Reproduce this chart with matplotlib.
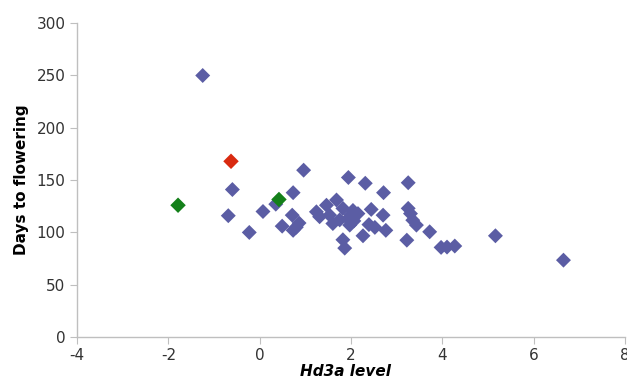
import matplotlib.pyplot as plt

plt.rcParams['axes.unicode_minus'] = False

# Hd3a level vs days to flowering
hd3a = [-1.25, -0.6, -0.69, -0.23, 0.07, 0.35, 0.73, 0.96, 0.71, 0.49, 0.73, 0.86, 0.8,
        1.24, 1.31, 1.46, 1.68, 1.53, 1.6, 1.94, 2.31, 1.82, 1.86, 1.82, 2.04, 2.15,
        1.93, 1.97, 2.06, 2.44, 2.7, 2.39, 2.52, 2.76, 2.26, 2.71, 3.25, 3.25, 3.3,
        3.35, 3.43, 3.72, 3.22, 3.97, 4.1, 4.27, 5.16, 6.65, 2.0, 1.75]
days = [250, 141, 116, 100, 120, 127, 138, 159.5, 116.5, 106, 102, 109, 105,
        119.7, 115, 126, 131, 116.5, 108.5, 152.5, 147, 123, 85, 93, 121, 118,
        113, 107, 111, 122, 116.5, 107.5, 104.8, 102, 96.8, 138, 147.5, 123, 118,
        111.7, 107, 100.6, 92.6, 85.7, 86, 87, 96.8, 73.5, 117, 112]

red_x = [-0.63]
red_y = [168]
green_x = [-1.79, 0.42]
green_y = [126, 131.5]

fig = plt.figure(figsize=(6.27, 3.8), dpi=100)
ax = fig.add_axes([0.123, 0.113, 0.874, 0.826])

ax.scatter(hd3a, days, marker='D', s=58, color='#5b5da4', edgecolors='none', zorder=3)
ax.scatter(red_x, red_y, marker='D', s=62, color='#d92a10', edgecolors='none', zorder=4)
ax.scatter(green_x, green_y, marker='D', s=62, color='#14801a', edgecolors='none', zorder=4)

ax.set_xlim(-4, 8)
ax.set_ylim(0, 300)
ax.set_xticks(range(-4, 9, 2))
ax.set_yticks(range(0, 301, 50))

for s in ['top', 'right']:
    ax.spines[s].set_visible(False)
for s in ['left', 'bottom']:
    ax.spines[s].set_color('#bfbfbf')
    ax.spines[s].set_linewidth(1)
ax.tick_params(colors='#bfbfbf', labelcolor='#333333', labelsize=11, length=5)
ax.tick_params(axis='x', pad=3)

ax.set_ylabel('Days to flowering', fontsize=11, fontweight='bold', labelpad=5)
ax.set_xlabel('Hd3a level', fontsize=11, fontweight='bold', style='italic', labelpad=-6)
ax.xaxis.set_label_coords(0.49, -0.085)

fig.savefig('out.png', dpi=100)
